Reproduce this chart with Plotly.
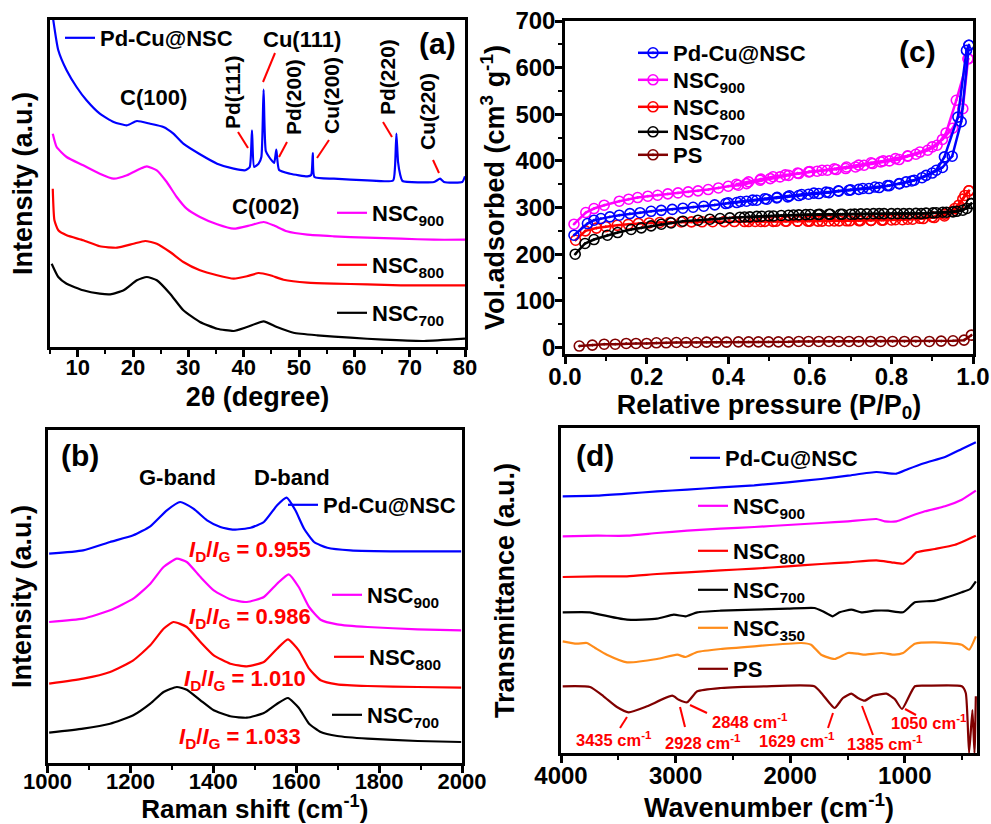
import plotly.graph_objects as go

W, H = 991, 824
FONT = "Liberation Sans, Arial, sans-serif"

# ---------------- (a) XRD ----------------
xrd_pdcu_x = [5.3, 5.6, 6.5, 8.0, 9.8, 11.6, 14.0, 16.5, 18.9, 20.7, 23.1, 25.5, 27.3, 29.1, 32.1, 35.2,
              38.2, 40.3, 41.1, 41.5, 41.9, 42.7, 43.2, 43.6, 44.0, 44.6, 45.5, 45.9, 46.4, 48.4, 51.5,
              52.2, 52.5, 52.8, 56.3, 62.3, 67.0, 67.35, 67.6, 67.9, 68.3, 68.7, 74.4, 75.5, 76.2, 79.5, 80.0]
xrd_pdcu_y = [340, 326.7, 296.7, 276.7, 260, 246.7, 233.3, 225, 221.7, 226, 223.3, 220, 213.3, 203.3, 192.7, 183.3,
              178.3, 176.7, 180, 216.7, 180, 183.3, 190, 257.3, 196, 190, 184, 197.3, 177, 173.3, 170.7,
              172, 194, 170, 168.3, 166.7, 166.5, 180, 213.3, 185, 172, 166, 165, 168.3, 165, 165, 170.7]
xrd_900_x = [5.5, 6.2, 8.0, 11.0, 14.0, 16.5, 18.9, 21.3, 22.5, 24.3, 26.1, 27.9, 29.7, 32.1, 35.2, 38.2,
             41.2, 43.6, 45.4, 47.8, 51.5, 56.3, 62.3, 68.4, 74.4, 80.0]
xrd_900_y = [213.3, 200, 190, 181.7, 173.3, 168.3, 171.7, 178.3, 180.7, 176.7, 165, 150, 138.3, 130, 122.7, 118.3,
             121.7, 125, 121.7, 115.7, 112.3, 110.7, 109.3, 108.3, 107.3, 107.3]
xrd_800_x = [5.5, 5.8, 6.5, 8.0, 11.0, 14.0, 17.1, 20.1, 22.2, 24.3, 26.7, 29.1, 32.1, 35.2, 38.2, 40.6,
             42.7, 44.8, 47.2, 51.5, 56.3, 62.3, 68.4, 80.0]
xrd_800_y = [158.3, 126.7, 116.7, 111.7, 106.7, 100.7, 99.3, 103.3, 106, 103.3, 95, 85, 76.7, 71.7, 68.3, 70.7,
             74, 71.7, 67.3, 64.3, 63.3, 62.7, 61.7, 61.7]
xrd_700_x = [5.3, 6.5, 8.0, 11.0, 14.0, 15.9, 18.3, 20.7, 22.5, 24.3, 26.7, 29.1, 32.1, 35.2, 38.2, 40.6,
             43.6, 46.0, 49.0, 53.3, 59.3, 65.3, 72.6, 80.0]
xrd_700_y = [83.3, 70, 63.3, 56.7, 53.3, 52.7, 56.7, 66.7, 70, 66.7, 53.3, 36.7, 25, 18.3, 16, 20,
             25.7, 20, 14.3, 11.7, 9.3, 7.3, 6, 8.3]

# ---------------- (b) Raman ----------------
ram_pdcu_x = [1004, 1086, 1151, 1207, 1248, 1288, 1320, 1352, 1385, 1417, 1449, 1490, 1522, 1554, 1577, 1598,
              1619, 1643, 1675, 1731, 1852, 1998]
ram_pdcu_y = [209.3, 212.7, 221, 227.7, 236.7, 252.7, 261, 254.3, 242.7, 236, 233.3, 235.3, 241, 257.7, 265.3,
              252.7, 234.3, 221, 215.3, 212.7, 211.7, 211.7]
ram_900_x = [1004, 1086, 1151, 1207, 1248, 1280, 1312, 1336, 1369, 1401, 1441, 1481, 1522, 1554, 1582, 1606,
             1631, 1659, 1699, 1772, 1893, 1998]
ram_900_y = [141, 144.3, 152.7, 164.3, 179.3, 196, 204.3, 201, 186, 172.7, 163.7, 161, 166, 179.3, 188.7, 176,
             156, 143.3, 138.7, 136, 133.7, 132.7]
ram_800_x = [1004, 1086, 1151, 1207, 1248, 1280, 1304, 1336, 1369, 1401, 1441, 1481, 1522, 1554, 1580, 1606,
             1631, 1659, 1699, 1772, 1893, 1998]
ram_800_y = [79.3, 84.3, 91, 102.7, 117.7, 134.3, 141, 136, 121, 107.7, 99.3, 96.7, 101, 114.3, 123.7, 112.7,
             94.3, 82.7, 78.7, 77, 76, 75.3]
ram_700_x = [1004, 1086, 1151, 1207, 1248, 1280, 1312, 1336, 1369, 1401, 1441, 1481, 1522, 1554, 1580, 1606,
             1631, 1659, 1699, 1772, 1893, 1998]
ram_700_y = [30.3, 34.3, 39.3, 47.7, 59.3, 71, 76, 73.3, 62.7, 52.7, 46.7, 45.3, 50, 59.3, 65, 55.3,
             39.3, 31, 27, 24.3, 22, 21]
ratio_labels = ["0.955", "0.986", "1.010", "1.033"]

# ---------------- (c) N2 isotherms ----------------
bet_pdcu_p = [0.022, 0.055, 0.071, 0.088, 0.11, 0.133, 0.159, 0.184, 0.211, 0.236, 0.263, 0.289, 0.314, 0.34,
              0.367, 0.394, 0.421, 0.445, 0.47, 0.495, 0.519, 0.546, 0.573, 0.597, 0.622, 0.647, 0.671, 0.696,
              0.72, 0.745, 0.77, 0.795, 0.819, 0.836, 0.856, 0.885, 0.91, 0.93, 0.963, 0.984, 0.99]
bet_pdcu_v = [240.7, 265.7, 272.9, 276.4, 280, 283.6, 287, 289, 292, 294, 296, 298.6, 300.7, 302.9,
              305.7, 308.6, 310.7, 313.6, 315.7, 317.9, 320.7, 322.9, 325.7, 328.6, 330, 332, 335, 337,
              339, 340.7, 342.9, 347, 351.4, 355, 358.6, 369, 380, 408.6, 494, 637, 648]
bet_pdcu_des_p = [0.99, 0.971, 0.949, 0.925, 0.90, 0.875, 0.85, 0.82, 0.79, 0.76, 0.73, 0.70, 0.67, 0.64,
                  0.61, 0.58, 0.55, 0.52, 0.49, 0.46, 0.43, 0.40]
bet_pdcu_des_v = [648, 484, 410, 386, 374, 364, 357, 351, 347, 344, 341, 338, 336, 333,
                  331, 328, 325, 322, 319, 316, 313, 310]
bet_900_p = [0.022, 0.051, 0.071, 0.096, 0.133, 0.156, 0.178, 0.203, 0.227, 0.252, 0.277, 0.302, 0.326, 0.351,
             0.376, 0.40, 0.425, 0.445, 0.478, 0.503, 0.527, 0.548, 0.573, 0.597, 0.618, 0.643, 0.665, 0.688,
             0.712, 0.733, 0.754, 0.774, 0.795, 0.819, 0.84, 0.86, 0.889, 0.912, 0.934, 0.959, 0.988]
bet_900_v = [264.3, 289.3, 297.9, 305, 313.6, 317.9, 321.4, 324.3, 326.4, 329.3, 331.4, 333.6, 335.7, 338.6,
             342, 345.7, 347.9, 351.4, 358.6, 362, 365.7, 369, 372.9, 376.4, 377.9, 380, 381.5, 383.6,
             387, 390.7, 394.3, 397.9, 400, 402.9, 410, 414.3, 422.9, 433.6, 460, 530, 619]
bet_900_des_p = [0.988, 0.975, 0.95, 0.925, 0.90, 0.87, 0.84, 0.81, 0.78, 0.75, 0.72, 0.69, 0.66, 0.63,
                 0.60, 0.57, 0.54, 0.51, 0.48, 0.45, 0.42]
bet_900_des_v = [619, 512, 470, 446, 430, 419, 411, 405, 400, 396, 391, 387, 383, 380,
                 377, 374, 370, 366, 361, 355, 350]
bet_800_p = [0.026, 0.05, 0.077, 0.10, 0.128, 0.155, 0.18, 0.206, 0.232, 0.258, 0.285, 0.31, 0.336, 0.362,
             0.39, 0.415, 0.44, 0.466, 0.49, 0.517, 0.543, 0.57, 0.595, 0.62, 0.647, 0.672, 0.698, 0.724,
             0.75, 0.776, 0.80, 0.827, 0.852, 0.878, 0.905, 0.93, 0.95, 0.965, 0.98, 0.99]
bet_800_v = [230, 250, 256, 259, 262, 264, 266, 267, 268, 268.6, 269, 269.3, 269.5, 269.6,
             269.8, 270, 270, 270.2, 270.4, 270.5, 270.7, 270.8, 271, 271, 271.2, 271.4, 271.6, 272,
             272.3, 272.8, 273.3, 274, 275, 276.4, 278.6, 282, 292, 305, 326, 336]
bet_800_des_p = [0.99, 0.975, 0.955, 0.93, 0.90, 0.87, 0.84, 0.81, 0.78, 0.75, 0.72, 0.69, 0.66, 0.63,
                 0.60, 0.57, 0.54, 0.51, 0.48, 0.45]
bet_800_des_v = [336, 318, 298, 286, 280, 277, 275, 274, 273, 272.5, 272, 271.6, 271.3, 271,
                 271, 270.8, 270.6, 270.4, 270.2, 270]
bet_700_p = [0.025, 0.049, 0.071, 0.104, 0.129, 0.162, 0.187, 0.211, 0.236, 0.26, 0.289, 0.326, 0.355, 0.38,
             0.404, 0.429, 0.453, 0.482, 0.511, 0.548, 0.573, 0.601, 0.624, 0.647, 0.675, 0.70, 0.725, 0.756,
             0.782, 0.815, 0.844, 0.873, 0.902, 0.926, 0.951, 0.975, 0.996]
bet_700_v = [200, 222.9, 231.4, 240.7, 246.4, 252.9, 256.4, 260.7, 264.3, 267, 270.7, 272.9, 275, 276.4,
             277.9, 279.3, 280, 281.4, 282, 283.6, 284.3, 285, 285.3, 285.7, 285.7, 285.7, 286.4, 287,
             287, 287, 287, 287, 288.6, 290, 290.7, 294.3, 308.6]
bet_700_des_p = [0.996, 0.985, 0.96, 0.935, 0.91, 0.885, 0.86, 0.83, 0.80, 0.77, 0.74, 0.71, 0.68, 0.65,
                 0.62, 0.59, 0.56, 0.53, 0.50, 0.47, 0.44]
bet_700_des_v = [308.6, 298, 292, 290, 289, 288, 287.5, 287, 287, 287, 286.5, 286, 285.7, 285.5,
                 285.2, 284.8, 284, 283, 282, 281, 279.8]
bet_ps_p = [0.035, 0.067, 0.096, 0.123, 0.15, 0.174, 0.2, 0.224, 0.248, 0.273, 0.297, 0.322, 0.347, 0.371,
            0.396, 0.425, 0.45, 0.474, 0.499, 0.523, 0.548, 0.573, 0.597, 0.622, 0.647, 0.671, 0.696, 0.72,
            0.749, 0.774, 0.803, 0.832, 0.86, 0.893, 0.922, 0.951, 0.978, 0.996]
bet_ps_v = [3, 5, 7, 7, 8.6, 8.6, 8.6, 10, 10, 10.7, 10.7, 10.7, 11.4, 11.4,
            11.4, 12, 12, 12, 12, 12, 12, 12.9, 12.9, 12.9, 12.9, 12.9, 12.9, 12.9,
            12.9, 12.9, 12.9, 12.9, 12.9, 12.9, 13.6, 14.3, 15.7, 26.4]

# ---------------- (d) FTIR ----------------
ir_pdcu_x = [3985, 3687, 3424, 3162, 2899, 2607, 2314, 2022, 1730, 1496, 1248, 1073, 970, 825, 649, 503, 380]
ir_pdcu_y = [256.7, 257.3, 259.3, 261.7, 263.3, 265.7, 267.7, 270.7, 274, 277.3, 281, 279.3, 284, 290, 296, 304, 310.7]
ir_900_x = [3985, 3687, 3424, 3162, 2899, 2607, 2314, 2022, 1730, 1496, 1248, 1175, 1073, 970, 825, 649, 503, 380]
ir_900_y = [216.7, 217.3, 217.3, 220, 222.3, 224.3, 226, 228, 230, 231.7, 234, 231.7, 231.7, 236, 241.7, 246.7, 253.3, 262.3]
ir_800_x = [3985, 3687, 3424, 3162, 2899, 2607, 2314, 2022, 1730, 1496, 1248, 1117, 1015, 956, 898, 737, 561, 380]
ir_800_y = [176, 176.7, 176.7, 179, 180.7, 182.7, 184.3, 186.7, 189, 190.7, 192.7, 190.7, 189.3, 194, 200.7, 204, 208.3, 217.3]
ir_700_x = [3985, 3746, 3658, 3424, 3162, 3016, 2913, 2811, 2607, 2314, 2022, 1789, 1716, 1628, 1569, 1467, 1379,
            1263, 1146, 1015, 912, 737, 503, 430, 380]
ir_700_y = [140.7, 140.7, 138.3, 133.3, 134.3, 138.3, 136.7, 140.7, 142.3, 143.3, 144.3, 145, 141.7, 136.7, 140.7,
            143.3, 140.7, 142.3, 142.3, 140.7, 150.7, 152.3, 160.7, 164, 171.7]
ir_350_x = [3985, 3863, 3775, 3702, 3600, 3424, 3162, 2986, 2913, 2811, 2607, 2314, 1905, 1818, 1730, 1613, 1496,
            1409, 1350, 1204, 1088, 1015, 912, 737, 503, 439, 380]
ir_350_y = [111.7, 109.3, 110, 105, 98.3, 90.7, 94, 98.3, 96, 101, 104, 106.7, 110, 108.3, 98.3, 94, 100,
            99.3, 98.3, 100, 98.3, 100, 109.3, 110.7, 108.3, 103.3, 116.7]
ir_ps_x = [3985, 3746, 3629, 3512, 3410, 3249, 3030, 2972, 2899, 2811, 2607, 2227, 1789, 1716, 1613, 1540, 1467,
           1409, 1350, 1277, 1160, 1088, 1024, 912, 795, 503, 468, 439, 410, 392, 380]
ir_ps_y = [66.7, 66, 56.7, 46, 40.7, 46.7, 57.3, 53.3, 50.7, 61.7, 65, 66.7, 66.7, 58.3, 45, 55, 59.3,
           55, 52.3, 57.3, 59.3, 54, 44, 66.7, 67.3, 66.7, 60, 0, 43, 0, 56.7]
ir_peak_labels = ["3435", "2928", "2848", "1629", "1385", "1050"]

BLUE, MAG, RED, BLK, ORG, DRED = "#0000FF", "#FF00FF", "#FF0000", "#000000", "#FF8C1A", "#800000"


def px(x):
    return x / W


def py(y):
    return 1 - y / H


fig = go.Figure()
legend_defs = []


def add_line(x, y, color, name, xa, ya, leg, text_x, text_y, width=2.2, rank=1):
    fig.add_trace(go.Scatter(x=x, y=y, mode="lines", name=name, xaxis=xa, yaxis=ya,
                             line=dict(color=color, width=width, shape="spline", smoothing=0.5),
                             legend=leg, legendrank=rank))
    legend_defs.append((leg, text_x, text_y))


# (a)
add_line(xrd_700_x, xrd_700_y, BLK, "NSC<sub>700</sub>", "x", "y", "legend4", 372, 313)
add_line(xrd_800_x, xrd_800_y, RED, "NSC<sub>800</sub>", "x", "y", "legend3", 372, 265)
add_line(xrd_900_x, xrd_900_y, MAG, "NSC<sub>900</sub>", "x", "y", "legend2", 372, 213)
add_line(xrd_pdcu_x, xrd_pdcu_y, BLUE, "Pd-Cu@NSC", "x", "y", "legend", 100, 38)

# (b)
add_line(ram_700_x, ram_700_y, BLK, "NSC<sub>700</sub>", "x3", "y3", "legend8", 367, 715)
add_line(ram_800_x, ram_800_y, RED, "NSC<sub>800</sub>", "x3", "y3", "legend7", 369, 657)
add_line(ram_900_x, ram_900_y, MAG, "NSC<sub>900</sub>", "x3", "y3", "legend6", 367, 595)
add_line(ram_pdcu_x, ram_pdcu_y, BLUE, "Pd-Cu@NSC", "x3", "y3", "legend5", 323, 505)

# (c)
bet_sets = [
    (bet_ps_p, bet_ps_v, None, None, DRED, "PS", "legend13", 155),
    (bet_800_p, bet_800_v, bet_800_des_p, bet_800_des_v, RED, "NSC<sub>800</sub>", "legend11", 107),
    (bet_700_p, bet_700_v, bet_700_des_p, bet_700_des_v, BLK, "NSC<sub>700</sub>", "legend12", 132),
    (bet_900_p, bet_900_v, bet_900_des_p, bet_900_des_v, MAG, "NSC<sub>900</sub>", "legend10", 80),
    (bet_pdcu_p, bet_pdcu_v, bet_pdcu_des_p, bet_pdcu_des_v, BLUE, "Pd-Cu@NSC", "legend9", 53),
]
for p, v, dp, dv, col, name, leg, ly in bet_sets:
    mk = dict(symbol="circle-open-dot", size=10, color=col, line=dict(width=1.6, color=col))
    if dp is not None:
        fig.add_trace(go.Scatter(x=dp, y=dv, mode="lines+markers", xaxis="x2", yaxis="y2",
                                 line=dict(color=col, width=2.5), marker=mk, showlegend=False))
    fig.add_trace(go.Scatter(x=p, y=v, mode="lines+markers", name=name, xaxis="x2", yaxis="y2",
                             line=dict(color=col, width=2.5), marker=mk, legend=leg))
    legend_defs.append((leg, 673, ly))

# (d)
add_line(ir_ps_x, ir_ps_y, DRED, "PS", "x4", "y4", "legend19", 733, 669)
add_line(ir_350_x, ir_350_y, ORG, "NSC<sub>350</sub>", "x4", "y4", "legend18", 733, 628)
add_line(ir_700_x, ir_700_y, BLK, "NSC<sub>700</sub>", "x4", "y4", "legend17", 733, 590)
add_line(ir_800_x, ir_800_y, RED, "NSC<sub>800</sub>", "x4", "y4", "legend16", 733, 551)
add_line(ir_900_x, ir_900_y, MAG, "NSC<sub>900</sub>", "x4", "y4", "legend15", 733, 506)
add_line(ir_pdcu_x, ir_pdcu_y, BLUE, "Pd-Cu@NSC", "x4", "y4", "legend14", 725, 458)

layout = dict(
    width=W, height=H, margin=dict(l=0, r=0, t=0, b=0, autoexpand=False),
    paper_bgcolor="white", plot_bgcolor="white",
    font=dict(family=FONT, size=22, color="black", weight="bold"),
)
for leg, tx, ty in legend_defs:
    layout[leg] = dict(x=px(tx - 40), y=py(ty), xanchor="left", yanchor="middle",
                       bgcolor="rgba(0,0,0,0)", borderwidth=0, itemwidth=30,
                       font=dict(family=FONT, size=22, color="black", weight="bold"))


def axis_common(tsize=22):
    return dict(showline=True, linewidth=2.5, linecolor="black", mirror=True, showgrid=False,
                zeroline=False, automargin=False,
                tickfont=dict(family=FONT, size=tsize, color="black", weight="bold"))


def title(text, standoff, size=27):
    return dict(text=text, font=dict(family=FONT, size=size, color="black", weight="bold"), standoff=standoff)


def xticks(dtick, mdtick, lso=-8):
    return dict(ticks="outside", ticklen=7, tickwidth=2.5, tickcolor="black", dtick=dtick, ticklabelstandoff=lso,
                minor=dict(ticks="outside", ticklen=4, tickwidth=2, tickcolor="black", dtick=mdtick))


noy = dict(showticklabels=False, ticks="")

layout["xaxis"] = dict(**axis_common(), **xticks(10, 5), domain=[px(50), px(465)], range=[5, 80],
                       anchor="y", title=title("2θ (degree)", 8))
layout["yaxis"] = dict(**axis_common(), **noy, domain=[py(347), py(20)], range=[0, 327], anchor="x",
                       title=title("Intensity (a.u.)", 7))
layout["xaxis2"] = dict(**axis_common(24), **xticks(0.2, 0.1), domain=[px(565), px(973)], range=[0, 1],
                        tickformat=".1f", anchor="y2", title=title("Relative pressure (P/P<sub>0</sub>)", 6))
layout["yaxis2"] = dict(**axis_common(24), ticks="outside", ticklen=7, tickwidth=2.5, tickcolor="black",
                        ticklabelstandoff=-5,
                        dtick=100, minor=dict(ticks="outside", ticklen=4, tickwidth=2, tickcolor="black", dtick=50),
                        domain=[py(354), py(21)], range=[-14, 700], anchor="x2",
                        title=title("Vol.adsorbed (cm<sup>3</sup> g<sup>-1</sup>)", 3))
layout["xaxis3"] = dict(**axis_common(), **xticks(200, 100, -10), domain=[px(47.5), px(462)], range=[1000, 2000],
                        anchor="y3", title=title("Raman shift (cm<sup>-1</sup>)", 12, 26))
layout["yaxis3"] = dict(**axis_common(), **noy, domain=[py(763), py(430)], range=[0, 333], anchor="x3",
                        title=title("Intensity (a.u.)", 6))
layout["xaxis4"] = dict(**axis_common(24), **xticks(1000, 500), domain=[px(561), px(977)], range=[4000, 370],
                        anchor="y4", title=title("Wavenumber (cm<sup>-1</sup>)", 8))
layout["yaxis4"] = dict(**axis_common(), **noy, domain=[py(753), py(428)], range=[0, 325], anchor="x4",
                        title=title("Transmittance (a.u.)", 36))

fig.update_layout(**layout)

annotations = []
shapes = []


def ann(text, x, y, size=22, color="black", angle=0):
    annotations.append(dict(text=text, x=px(x), y=py(y), xref="paper", yref="paper", showarrow=False,
                            xanchor="center", yanchor="middle", textangle=angle,
                            font=dict(family=FONT, size=size, color=color, weight="bold")))


def seg(x0, y0, x1, y1, color=RED, width=2):
    shapes.append(dict(type="line", xref="paper", yref="paper", x0=px(x0), y0=py(y0), x1=px(x1), y1=py(y1),
                       line=dict(color=color, width=width)))


# panel letters
ann("(a)", 437, 43, 30)
ann("(b)", 80, 455, 30)
ann("(c)", 917, 52, 30)
ann("(d)", 595, 455, 30)

# (a) labels
ann("C(100)", 153, 97)
ann("C(002)", 265, 206)
ann("Cu(111)", 302, 39)
ann("Pd(111)", 233, 92, 21, angle=-90)
ann("Pd(200)", 293, 97, 21, angle=-90)
ann("Cu(200)", 332, 96, 21, angle=-90)
ann("Pd(220)", 387, 77, 21, angle=-90)
ann("Cu(220)", 428, 112, 21, angle=-90)
seg(238, 132, 248, 148)
seg(275, 53, 263, 82)
seg(287, 142, 279, 157)
seg(329, 140, 317, 158)
seg(383, 122, 392, 137)
seg(433, 160, 439, 173)

# (b) labels
ann("G-band", 177, 477)
ann("D-band", 292, 477)
for lab, (x, y) in zip(ratio_labels, [(250, 551), (250, 618), (245, 680), (240, 738)]):
    ann("<i>I</i><sub>D</sub>/<i>I</i><sub>G</sub> = " + lab, x, y, 22, RED)

# (d) labels
for lab, (x, y) in zip(ir_peak_labels, [(614, 739), (703, 742), (750, 721), (797, 740), (885, 743), (929, 722)]):
    ann(lab + " cm<sup>-1</sup>", x, y, 16.5, RED)
seg(627, 717, 620, 728)
seg(680, 707, 685, 727)
seg(690, 705, 707, 713)
seg(833, 713, 828, 728)
seg(862, 706, 873, 735)
seg(905, 709, 916, 715)

fig.update_layout(annotations=annotations, shapes=shapes)
fig.write_html("out.html", config={"displayModeBar": False},
               post_script="document.body.style.margin='0';document.body.style.overflow='hidden';")
